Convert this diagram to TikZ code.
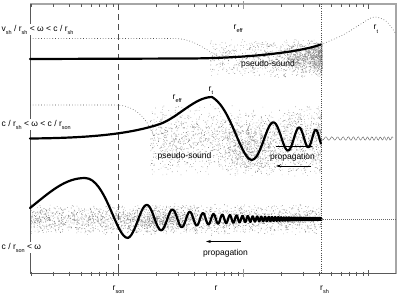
\documentclass[tikz,border=0pt]{standalone}
\usepackage{fontspec}
\setmainfont{Liberation Sans}
\usetikzlibrary{arrows.meta}
\newcommand\lsub[1]{\raisebox{-3pt}{\fontsize{5.5}{6}\selectfont #1}}
\begin{document}
\begin{tikzpicture}[x=1pt,y=-1pt,
  lbl/.style={font=\fontsize{8.5}{9}\selectfont, inner sep=0.5pt},
  sidelbl/.style={lbl, fill=white, anchor=base west, inner sep=1pt},
  thickc/.style={line width=2.2pt, line join=round, line cap=round},
  dotl/.style={line width=0.6pt, dash pattern=on 0.6pt off 2.2pt, black!70},
  stip/.style={fill=black!45},
  arr/.style={-{Stealth[length=5pt,width=3pt]}, line width=0.5pt},
  axisl/.style={black!65, line width=0.7pt},
  framel/.style={black!35, line width=1.2pt},
  tickl/.style={black!65, line width=0.5pt}
]
\useasboundingbox (0,0) rectangle (397,297);

% ---------- stippled regions ----------
\pgfmathsetseed{7}
% panel 1
\fill[stip] \foreach \i in {1,...,1200} { ({322-112*rnd^1.8},{58+20*(rnd+rnd-1)}) rectangle ++(0.6,0.6) };
\fill[stip] \foreach \i in {1,...,450} { ({322-35*rnd^1.3},{56+16*(rnd+rnd-1)}) rectangle ++(0.6,0.6) };
% panel 2
\fill[stip] \foreach \i in {1,...,1700} { ({150+171*rnd},{140+37*(rnd+rnd-1)}) rectangle ++(0.6,0.6) };
\fill[stip] \foreach \i in {1,...,600} { ({250+35*(rnd+rnd-1)},{148+28*(rnd+rnd-1)}) rectangle ++(0.6,0.6) };
\fill[stip] \foreach \i in {1,...,300} { ({321-40*rnd^2},{140+35*(rnd+rnd-1)}) rectangle ++(0.6,0.6) };
% panel 3
\fill[stip] \foreach \i in {1,...,2500} { ({30+291*rnd},{219+16*(rnd+rnd-1)}) rectangle ++(0.6,0.6) };
\fill[stip] \foreach \i in {1,...,400} { ({160+45*(rnd+rnd-1)},{220+14*(rnd+rnd-1)}) rectangle ++(0.6,0.6) };

% ---------- frame and axes ----------
\coordinate (TL) at (30,4);
\coordinate (TR) at (396,4);
\coordinate (BL) at (30,273.5);
\coordinate (BR) at (396,273.5);
\draw[framel] (TL) -- (TR) -- (BR);
\draw[axisl] (TL) -- (BL) -- (BR);
\foreach \d in {-6.5,118.5,243.5}{
  \foreach \k in {2,...,9}{
    \pgfmathsetmacro\tx{\d+125*log10(\k)}
    \draw[tickl] (\tx,4) -- ++(0,3);
    \draw[tickl] (\tx,271.5) -- ++(0,4);
  }
}
\foreach \tx in {118.5,368.5}{
  \draw[tickl] (\tx,4) -- ++(0,5);
  \draw[tickl] (\tx,270) -- ++(0,6);
}
\draw[black!40, line width=1.3pt] (243.5,1) -- (243.5,9);
\draw[black!40, line width=1.3pt] (243.5,269) -- (243.5,277);

% r_son dashed, r_sh dotted
\coordinate (sonT) at (118.5,4);
\coordinate (sonB) at (118.5,273.5);
\coordinate (shT) at (321,4);
\coordinate (shB) at (321,273.5);
\draw[black!70, line width=0.6pt, dash pattern=on 6pt off 4pt] (sonT) -- (sonB);
\draw[black!70, line width=0.6pt, dash pattern=on 0.6pt off 1.6pt] (shT) -- (shB);

% ---------- panel 1 ----------
\draw[dotl] (30,38.5) -- (175,38.5) .. controls (195,39) and (205,50) .. (220,57);
\draw[thickc] (30,59) -- (190,58.5) .. controls (250,58) and (300,52) .. (321,44.5);
\draw[dotl] plot[smooth] coordinates {(321,44.5) (343,35) (360,24.5) (374,17) (386.5,21.5) (396,34)};

% ---------- panel 2 ----------
\draw[dotl] (30,105) -- (115,105) .. controls (135,105) and (148,118) .. (155,140);
\draw[thickc] (30,138.5) .. controls (90,138) and (130,134) .. (160,124)
   .. controls (178,117.5) and (195,97) .. (212,97);
\draw[thickc] plot[domain=0.01:1217, samples=260, variable=\t]
   ({118.5+125*log10(5.6+(\t/24.06)^0.914)}, {138-41*(5.6/(5.6+(\t/24.06)^0.914))^0.85*cos(\t)});
\draw[black!70, line width=0.5pt, dash pattern=on 0.9pt off 0.5pt] plot[domain=321:393, samples=300]
   (\x, {138.5+1.6*sin(55*(\x-321)*(1+(\x-321)/200))});

% ---------- panel 3 ----------
\draw[thickc] (30,208) .. controls (50,192) and (65,178) .. (85,178)
   .. controls (106,178) and (116,238) .. (127.84,238.0);
\draw[thickc] plot[domain=270:14787, samples=1100, variable=\t]
   ({118.5+125*log10((\t+151.2)/354.6)}, {219-22*((\t+151.2)/354.6)^(-0.85)*sin(\t)});
\draw[black!60, line width=0.5pt, dash pattern=on 1.2pt off 0.8pt] (321,219.5) -- (396,219.5);

% ---------- arrows ----------
\coordinate (a1s) at (276,146.5);
\coordinate (a1e) at (313,146.5);
\coordinate (a2s) at (311,166);
\coordinate (a2e) at (276,166);
\coordinate (a3s) at (241,241.5);
\coordinate (a3e) at (206,241.5);
\draw[arr] (a1s) -- (a1e);
\draw[arr] (a2s) -- (a2e);
\draw[arr] (a3s) -- (a3e);

% ---------- labels ----------
\node[sidelbl] (l1) at (0.5,31) {v\lsub{sh} / r\lsub{sh} < ω < c / r\lsub{sh}};
\node[sidelbl] (l2) at (0.5,126) {c / r\lsub{sh} < ω < c / r\lsub{son}};
\node[sidelbl] (l3) at (0.5,249) {c / r\lsub{son} < ω};

\node[lbl, anchor=base west] (rson) at (112,290) {r\lsub{son}};
\node[lbl, anchor=base west] (rmid) at (214,290) {r};
\node[lbl, anchor=base west] (rsh) at (319.5,290) {r\lsub{sh}};

\node[lbl, anchor=base west] (reff1) at (233,29) {r\lsub{eff}};
\node[lbl, anchor=base west] (rt1) at (373,30) {r\lsub{t}};
\node[lbl, anchor=base west] (reff2) at (172,99) {r\lsub{eff}};
\node[lbl, anchor=base west] (rt2) at (208,91) {r\lsub{t}};

\node[lbl] (ps1) at (268,64.5) {pseudo-sound};
\node[lbl] (ps2) at (184.5,156) {pseudo-sound};
\node[lbl] (prop2) at (292.5,157) {propagation};
\node[lbl] (prop3) at (225.5,253) {propagation};
\end{tikzpicture}
\end{document}
